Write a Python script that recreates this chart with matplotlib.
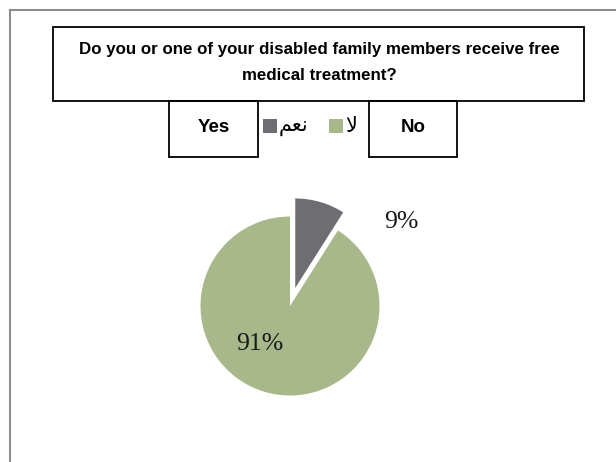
import matplotlib
matplotlib.use("Agg")
import matplotlib.pyplot as plt
from matplotlib.patches import Rectangle
from matplotlib.lines import Line2D

# survey answers
answers_en = ["Yes", "No"]
answers_ar = ["\uFEE2\uFECC\uFEE7", "\uFEFB"]   # نعم , لا (pre-shaped)
shares = [9, 91]
colors = ["#6e6d72", "#a8b88a"]
question = "Do you or one of your disabled family members receive free\nmedical treatment?"

W, H = 616, 462
fig = plt.figure(figsize=(W / 100, H / 100), dpi=100)
ax = fig.add_axes([0, 0, 1, 1])

def py(y):
    # pixel row -> data y
    return H - y

# pie (explode is in data units when radius is given)
R = 89.5
wedges, _ = ax.pie(shares, colors=colors, startangle=90, counterclock=False,
                   explode=[0.21 * R, 0], center=(290, py(306)), radius=R,
                   wedgeprops=dict(linewidth=0))
ax.set_xlim(0, W)
ax.set_ylim(0, H)
ax.set_aspect("equal")
ax.axis("off")

# chart frame (only top/left visible)
ax.add_line(Line2D([10, W], [py(10), py(10)], color="#8c8c8c", lw=1.5))
ax.add_line(Line2D([10, 10], [py(10), 0], color="#8c8c8c", lw=1.5))

serif = "Liberation Serif"
ax.text(401, py(222), f"{shares[0]}%", fontsize=18.5, family=serif,
        ha="center", va="center", color="#1a1a1a")
ax.text(260, py(344), f"{shares[1]}%", fontsize=18.5, family=serif,
        ha="center", va="center", color="#1a1a1a")

# question box
ax.add_patch(Rectangle((53, py(101)), 584 - 53, 101 - 27, fill=False,
                       ec="black", lw=1.3))
ax.text(319, py(62.5), question, fontsize=12.2, fontweight="bold",
        family="Liberation Sans", ha="center", va="center",
        linespacing=1.9)

# Yes / No boxes
for label, x0, x1 in [(answers_en[0], 169, 258), (answers_en[1], 369, 457)]:
    ax.add_patch(Rectangle((x0, py(157)), x1 - x0, 157 - 101, fill=False,
                           ec="black", lw=1.3))
    ax.text((x0 + x1) / 2, py(127), label, fontsize=13.5, fontweight="bold",
            family="Liberation Sans", ha="center", va="center")

# legend
sq = 14
for (x, lab, c) in [(263, answers_ar[0], colors[0]), (329, answers_ar[1], colors[1])]:
    ax.add_patch(Rectangle((x, py(125.5) - sq / 2), sq, sq, fc=c, ec="none"))
    ax.text(x + sq + 2, py(126.5), lab, fontsize=15, family="DejaVu Sans",
            ha="left", va="center")

fig.savefig("out.png", dpi=100)
